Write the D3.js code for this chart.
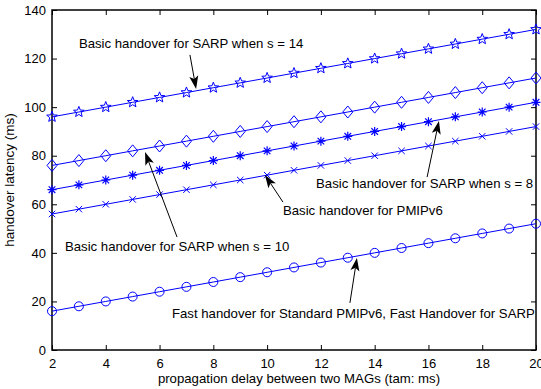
<!DOCTYPE html>
<html>
<head>
<meta charset="utf-8">
<script src="https://cdn.jsdelivr.net/npm/d3@7"></script>
<style>
  body { margin: 0; background: #fff; }
  text { font-family: Helvetica, Arial, "Liberation Sans", sans-serif; fill: #000; }
</style>
</head>
<body>
<div class="chart"></div>
<script>
// propagation delay (ms) on the x axis
const delays = d3.range(2, 21, 1);

// handover latency per scheme, one value per delay
const sarp14 = [96, 98, 100, 102, 104, 106, 108, 110, 112, 114, 116, 118, 120, 122, 124, 126, 128, 130, 132];
const sarp10 = [76, 78, 80, 82, 84, 86, 88, 90, 92, 94, 96, 98, 100, 102, 104, 106, 108, 110, 112];
const sarp8 = [66, 68, 70, 72, 74, 76, 78, 80, 82, 84, 86, 88, 90, 92, 94, 96, 98, 100, 102];
const pmip = [56, 58, 60, 62, 64, 66, 68, 70, 72, 74, 76, 78, 80, 82, 84, 86, 88, 90, 92];
const fast = [16, 18, 20, 22, 24, 26, 28, 30, 32, 34, 36, 38, 40, 42, 44, 46, 48, 50, 52];

const xTicks = [2, 4, 6, 8, 10, 12, 14, 16, 18, 20];
const yTicks = [0, 20, 40, 60, 80, 100, 120, 140];

const series = [
  { name: "sarp14", values: sarp14, marker: "star" },
  { name: "sarp10", values: sarp10, marker: "diamond" },
  { name: "sarp8", values: sarp8, marker: "asterisk" },
  { name: "pmip", values: pmip, marker: "x" },
  { name: "fast", values: fast, marker: "circle" }
];

// text anchor (tx,ty) and arrow from (ax,ay) to tip (bx,by), all in data units
const notes = [
  { label: "Basic handover for SARP when s = 14", tx: 3.0, ty: 124.4, ax: 7.13, ay: 121.5, bx: 7.36, by: 107.5 },
  { label: "Basic handover for SARP when s = 8", tx: 11.82, ty: 66.7, ax: 15.95, ay: 71.2, bx: 16.39, by: 94.3 },
  { label: "Basic handover for PMIPv6", tx: 10.59, ty: 55.6, ax: 10.59, ay: 60.9, bx: 9.92, by: 72.1 },
  { label: "Basic handover for SARP when s = 10", tx: 2.48, ty: 40.8, ax: 6.65, ay: 46.5, bx: 5.46, by: 81.5 },
  { label: "Fast handover for Standard PMIPv6, Fast Handover for SARP", tx: 6.46, ty: 13.2, ax: 13.08, ay: 19.4, bx: 13.34, by: 37.9 }
];

const margin = { top: 10, right: 5, bottom: 39, left: 52 };
const width = 541 - margin.left - margin.right,
  height = 389 - margin.top - margin.bottom;

const svg = d3
  .select(".chart")
  .append("svg")
  .attr("width", width + margin.left + margin.right)
  .attr("height", height + margin.top + margin.bottom)
  .append("g")
  .attr("transform", "translate(" + margin.left + "," + margin.top + ")");

const x = d3.scaleLinear().domain([2, 20]).range([0, width]);
const y = d3.scaleLinear().domain([0, 140]).range([height, 0]);

// axes: ticks point inward on all four sides, labels only bottom and left
function styleAxis(g) {
  g.select(".domain").remove();
  g.selectAll(".tick line").attr("stroke", "#000").attr("stroke-width", 1);
  g.selectAll(".tick text").style("font-size", "13px").attr("fill", "#000");
}

svg.append("g")
  .attr("transform", "translate(0," + height + ")")
  .call(d3.axisBottom(x).tickValues(xTicks).tickSize(-5).tickPadding(9).tickFormat(d3.format("d")))
  .call(styleAxis);

svg.append("g")
  .call(d3.axisLeft(y).tickValues(yTicks).tickSize(-5).tickPadding(6).tickFormat(d3.format("d")))
  .call(styleAxis);

svg.append("g")
  .call(d3.axisTop(x).tickValues(xTicks).tickSize(-5).tickFormat(""))
  .call(styleAxis);

svg.append("g")
  .attr("transform", "translate(" + width + ",0)")
  .call(d3.axisRight(y).tickValues(yTicks).tickSize(-5).tickFormat(""))
  .call(styleAxis);

svg.append("rect")
  .attr("width", width)
  .attr("height", height)
  .attr("fill", "none")
  .attr("stroke", "#000")
  .attr("stroke-width", 1.5);

// lines
const line = d3.line()
  .x((d, i) => x(delays[i]))
  .y(d => y(d));

const blue = "#0000ff";

svg.selectAll(".series")
  .data(series)
  .join("path")
  .attr("class", "series")
  .attr("d", d => line(d.values))
  .attr("fill", "none")
  .attr("stroke", blue)
  .attr("stroke-width", 1);

// marker shapes centred on 0,0
function markerPath(type) {
  const p = d3.path();
  if (type === "circle") {
    p.moveTo(4.5, 0);
    p.arc(0, 0, 4.5, 0, 2 * Math.PI);
  } else if (type === "diamond") {
    p.moveTo(0, -6); p.lineTo(5, 0); p.lineTo(0, 6); p.lineTo(-5, 0); p.closePath();
  } else if (type === "x") {
    p.moveTo(-3.2, -3.2); p.lineTo(3.2, 3.2);
    p.moveTo(-3.2, 3.2); p.lineTo(3.2, -3.2);
  } else if (type === "asterisk") {
    p.moveTo(-4.5, 0); p.lineTo(4.5, 0);
    p.moveTo(0, -4.5); p.lineTo(0, 4.5);
    p.moveTo(-3.3, -3.3); p.lineTo(3.3, 3.3);
    p.moveTo(-3.3, 3.3); p.lineTo(3.3, -3.3);
  } else if (type === "star") {
    const R = 5.6, r = 2.4;
    for (let k = 0; k < 10; k++) {
      const a = -Math.PI / 2 + k * Math.PI / 5;
      const rr = k % 2 ? r : R;
      if (k === 0) p.moveTo(rr * Math.cos(a), rr * Math.sin(a));
      else p.lineTo(rr * Math.cos(a), rr * Math.sin(a));
    }
    p.closePath();
  }
  return p.toString();
}

series.forEach(s => {
  svg.append("g")
    .selectAll("path")
    .data(s.values)
    .join("path")
    .attr("transform", (d, i) => "translate(" + x(delays[i]) + "," + y(d) + ")")
    .attr("d", markerPath(s.marker))
    .attr("fill", "none")
    .attr("stroke", blue)
    .attr("stroke-width", s.marker === "asterisk" ? 1.2 : 1);
});

// annotations with arrows
const notesG = svg.append("g");

notes.forEach(n => {
  const x0 = x(n.ax), y0 = y(n.ay), x1 = x(n.bx), y1 = y(n.by);
  const ang = Math.atan2(y1 - y0, x1 - x0);
  const len = 13, half = 4.5, back = 10;
  const ux = Math.cos(ang), uy = Math.sin(ang);
  const bx = x1 - len * ux, by = y1 - len * uy;
  const nx = x1 - back * ux, ny = y1 - back * uy;

  notesG.append("line")
    .attr("x1", x0).attr("y1", y0)
    .attr("x2", nx).attr("y2", ny)
    .attr("stroke", "#000")
    .attr("stroke-width", 1);

  notesG.append("path")
    .attr("d", "M" + x1 + "," + y1 +
      "L" + (bx - half * uy) + "," + (by + half * ux) +
      "L" + nx + "," + ny +
      "L" + (bx + half * uy) + "," + (by - half * ux) + "Z")
    .attr("fill", "#000");

  notesG.append("text")
    .attr("x", x(n.tx))
    .attr("y", y(n.ty))
    .style("font-size", "13.2px")
    .text(n.label);
});

// axis titles
svg.append("text")
  .attr("x", width / 2 + 5)
  .attr("y", height + 33)
  .attr("text-anchor", "middle")
  .style("font-size", "13.2px")
  .text("propagation delay between two MAGs (tam: ms)");

svg.append("text")
  .attr("transform", "translate(" + (-38) + "," + (height / 2) + ") rotate(-90)")
  .attr("text-anchor", "middle")
  .style("font-size", "13.5px")
  .text("handover latency (ms)");
</script>
</body>
</html>
